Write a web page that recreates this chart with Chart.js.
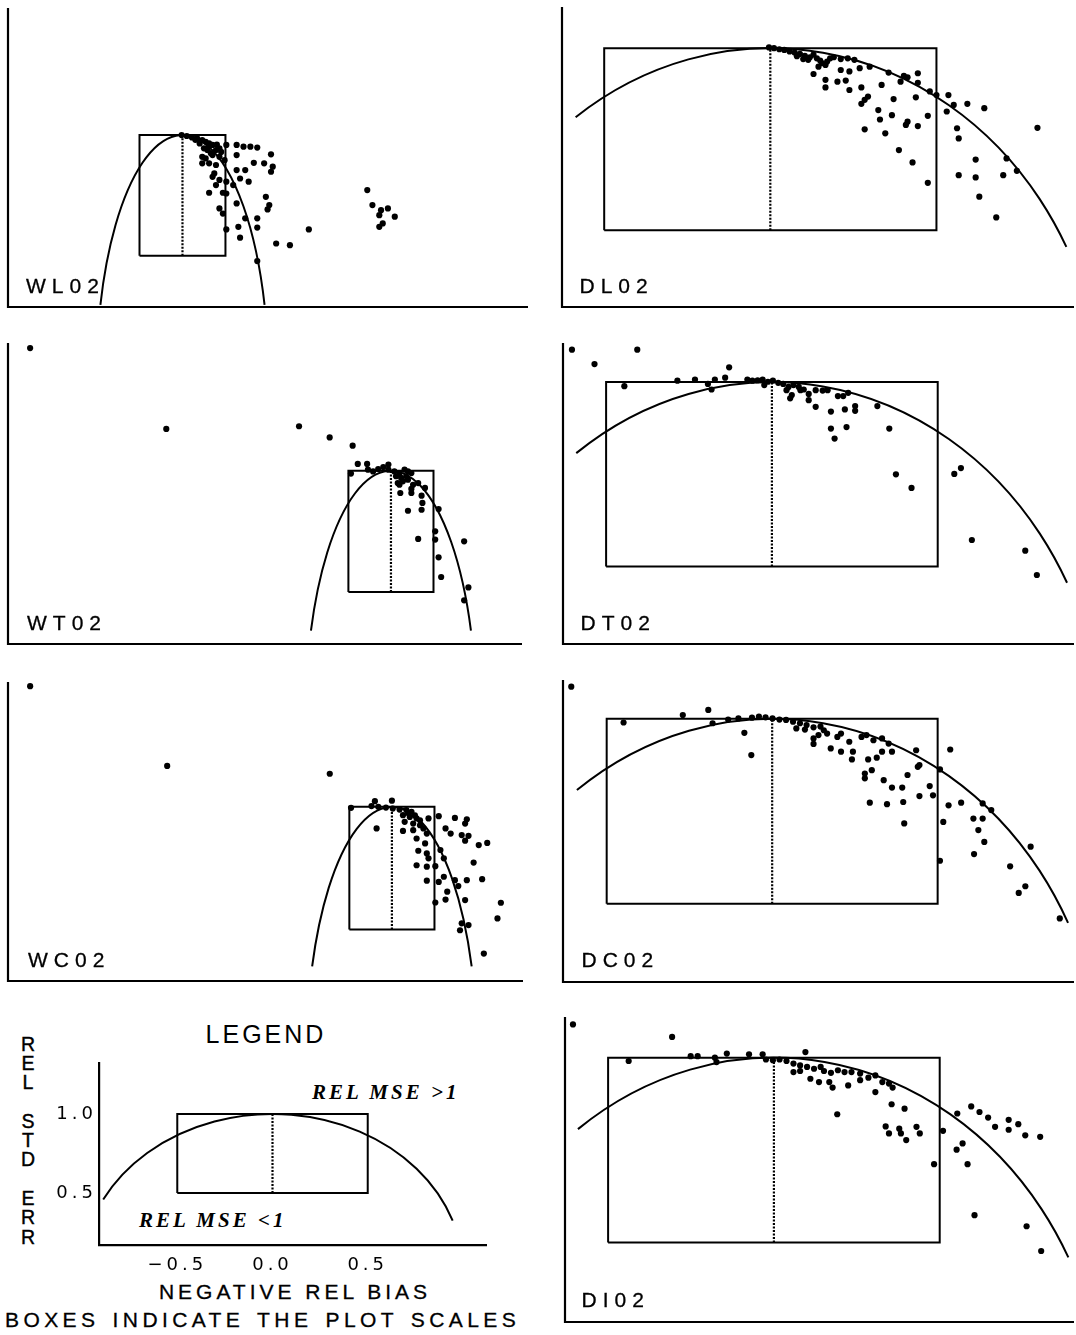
<!DOCTYPE html>
<html>
<head>
<meta charset="utf-8">
<script src="https://cdn.jsdelivr.net/npm/chart.js@4.4.1/dist/chart.umd.min.js"></script>
<style>
  html, body { margin: 0; padding: 0; background: #fff; }
  body { width: 1076px; height: 1335px; position: relative; overflow: hidden; color: #000;
         font-family: "Liberation Sans", Arial, sans-serif; }
  canvas.panel { position: absolute; }
  .txt { position: absolute; white-space: nowrap; font-size: 21px; line-height: 21px; }
  .plabel { letter-spacing: 6px; -webkit-text-stroke: 0.3px #000; }
  #legendTitle { left: 163px; width: 200px; top: 1021.7px; text-align: center; font-size: 25px; line-height: 25px;
                 letter-spacing: 3px; padding-left: 3px; }
  #biasTitle { left: 141px; width: 300px; top: 1280.8px; text-align: center; letter-spacing: 4px; padding-left: 4px;
               -webkit-text-stroke: 0.3px #000; }
  #footnote { left: 5px; top: 1309px; letter-spacing: 4.4px; word-spacing: 3px; -webkit-text-stroke: 0.3px #000; }
  .mse { font-family: "Liberation Serif", "Times New Roman", serif; font-weight: bold; font-style: italic; letter-spacing: 3px; }
  #mseHigh { left: 312px; top: 1082.3px; }
  #mseLow { left: 139px; top: 1209.5px; }
  #stdTitle { left: 18px; width: 20px; top: 1034.6px; text-align: center; font-size: 19.5px; line-height: 19.3px;
              -webkit-text-stroke: 0.4px #000; }
</style>
</head>
<body>
<div class="txt" id="legendTitle">LEGEND</div>
<div class="txt" id="stdTitle">R<br>E<br>L<br><br>S<br>T<br>D<br><br>E<br>R<br>R</div>
<div class="txt mse" id="mseHigh">REL MSE &gt;1</div>
<div class="txt mse" id="mseLow">REL MSE &lt;1</div>
<div class="txt" id="biasTitle">NEGATIVE REL BIAS</div>
<div class="txt" id="footnote">BOXES INDICATE THE PLOT SCALES</div>
<script>
// box that marks the common plot scale: bias -0.5..0.5, std err 0.5..1.0
const boxBias = [-0.5, 0.5];
const boxStd = [0.5, 1.0];
const legendBiasTicks = [-0.5, 0.0, 0.5];
const legendStdTicks = [0.5, 1.0];

// [negative rel bias, rel std err]
const wl02Points = [
  [-0.01,1.000],[0.05,0.996],[0.11,0.990],[0.17,0.986],[0.23,0.979],[0.27,0.972],[0.31,0.966],[0.35,0.959],
  [0.25,0.945],[0.29,0.938],[0.39,0.938],[0.43,0.945],[0.51,0.959],[0.63,0.959],[0.71,0.952],[0.79,0.952],
  [0.87,0.948],[1.03,0.920],[0.23,0.910],[0.27,0.903],[0.35,0.917],[0.43,0.910],[0.49,0.896],[0.63,0.917],
  [0.83,0.885],[0.95,0.883],[0.23,0.883],[0.31,0.883],[0.39,0.876],[0.63,0.855],[0.73,0.855],[1.05,0.869],
  [1.03,0.848],[0.37,0.841],[0.35,0.827],[0.43,0.814],[0.39,0.793],[0.51,0.807],[0.67,0.820],[0.77,0.807],
  [0.59,0.793],[0.31,0.761],[0.47,0.761],[0.51,0.758],[0.97,0.744],[0.63,0.717],[1.01,0.710],[0.99,0.692],
  [0.43,0.696],[0.47,0.675],[0.73,0.655],[0.87,0.655],[0.65,0.620],[0.87,0.617],[0.51,0.609],[0.67,0.575],
  [1.09,0.551],[1.25,0.544],[1.47,0.609],[2.15,0.772],[2.21,0.710],[2.31,0.689],[2.39,0.696],[2.29,0.668],
  [2.47,0.662],[2.33,0.634],[2.29,0.620],[0.87,0.478],
  [0.20,0.965],[0.30,0.950],[0.45,0.930],[0.15,0.980],[0.40,0.960],[0.33,0.925]
];
const dl02Points = [
  [-0.004,1.002],[0.011,1.000],[0.027,0.997],[0.042,0.995],[0.058,0.991],[0.073,0.988],[0.089,0.984],[0.104,0.979],
  [0.119,0.975],[0.130,0.982],[0.114,0.968],[0.099,0.970],[0.140,0.972],[0.155,0.959],[0.171,0.963],[0.145,0.949],
  [0.166,0.954],[0.191,0.975],[0.212,0.970],[0.233,0.972],[0.253,0.968],[0.212,0.940],[0.238,0.936],[0.269,0.945],
  [0.299,0.949],[0.356,0.933],[0.402,0.924],[0.444,0.931],[0.130,0.929],[0.166,0.913],[0.202,0.908],[0.227,0.911],
  [0.166,0.892],[0.238,0.885],[0.274,0.892],[0.335,0.899],[0.392,0.908],[0.413,0.920],[0.444,0.905],[0.480,0.881],
  [0.500,0.871],[0.536,0.871],[0.294,0.867],[0.284,0.858],[0.274,0.847],[0.371,0.860],[0.438,0.865],[0.552,0.844],
  [0.593,0.847],[0.644,0.835],[0.325,0.830],[0.366,0.816],[0.531,0.826],[0.330,0.804],[0.413,0.798],[0.474,0.814],
  [0.444,0.786],[0.408,0.789],[0.284,0.777],[0.346,0.766],[0.562,0.780],[0.567,0.752],[0.804,0.781],[0.387,0.720],
  [0.428,0.686],[0.618,0.694],[0.711,0.697],[0.742,0.663],[0.567,0.651],[0.618,0.645],[0.701,0.651],[0.474,0.630],
  [0.629,0.592],[0.680,0.535],[0.080,0.978],[0.150,0.966],[0.180,0.972]
];
const wt02Points = [
  [-4.24,1.505],[-2.64,1.172],[-1.08,1.183],[-0.72,1.137],[-0.45,1.103],[-0.39,1.028],[-0.28,1.028],[-0.47,0.988],
  [-0.27,1.004],[-0.21,0.997],[-0.15,1.007],[-0.09,1.015],[-0.03,1.025],[-0.03,1.004],[0.04,0.997],[0.10,0.990],
  [0.16,1.004],[0.20,0.997],[0.24,0.990],[0.06,0.977],[0.12,0.970],[0.18,0.977],[0.08,0.949],[0.14,0.956],
  [0.20,0.963],[0.10,0.942],[0.26,0.942],[0.32,0.949],[0.40,0.929],[0.24,0.925],[0.24,0.908],[0.36,0.897],
  [0.11,0.908],[0.37,0.867],[0.36,0.839],[0.20,0.835],[0.56,0.842],[0.52,0.750],[0.52,0.716],[0.32,0.719],
  [0.86,0.709],[0.56,0.643],[0.59,0.562],[0.91,0.519],[0.86,0.466]
];
const dt02Points = [
  [-0.603,1.088],[-0.535,1.049],[-0.406,1.088],[-0.129,1.040],[-0.445,0.989],[-0.285,1.004],[-0.232,1.007],[-0.172,1.007],
  [-0.141,1.012],[-0.182,0.980],[-0.193,0.995],[-0.074,1.007],[-0.059,1.004],[-0.043,1.005],[-0.028,1.007],[-0.012,1.001],
  [0.003,1.004],[0.019,0.998],[0.034,0.995],[-0.023,0.992],[0.050,0.987],[0.065,0.992],[0.081,0.987],[0.044,0.978],
  [0.060,0.965],[0.086,0.978],[0.096,0.980],[0.111,0.968],[0.132,0.978],[0.153,0.977],[0.168,0.978],[0.055,0.956],
  [0.111,0.951],[0.132,0.933],[0.178,0.920],[0.199,0.962],[0.215,0.962],[0.230,0.971],[0.220,0.926],[0.251,0.935],
  [0.251,0.922],[0.318,0.935],[0.178,0.874],[0.225,0.878],[0.189,0.847],[0.354,0.874],[0.374,0.750],[0.421,0.713],
  [0.550,0.751],[0.570,0.767],[0.603,0.572],[0.764,0.543],[0.799,0.477]
];
const wc02Points = [
  [-4.25,1.492],[-2.64,1.167],[-0.73,1.135],[-0.48,0.996],[-0.20,1.023],[0.00,1.025],[-0.24,1.003],[-0.16,1.000],
  [-0.07,0.997],[0.01,0.993],[0.09,0.989],[0.17,0.987],[0.23,0.980],[0.13,0.966],[0.21,0.959],[0.29,0.953],
  [0.15,0.939],[0.25,0.932],[0.33,0.925],[0.43,0.953],[0.55,0.962],[0.74,0.955],[0.88,0.949],[0.86,0.932],
  [-0.18,0.912],[0.13,0.902],[0.25,0.905],[0.37,0.912],[0.41,0.891],[0.63,0.912],[0.69,0.891],[0.82,0.885],
  [0.90,0.882],[0.86,0.862],[0.29,0.871],[0.39,0.851],[1.02,0.844],[1.12,0.853],[0.31,0.821],[0.41,0.810],
  [0.43,0.790],[0.57,0.824],[0.61,0.790],[0.29,0.762],[0.41,0.756],[0.51,0.758],[0.96,0.773],[0.61,0.715],
  [0.74,0.701],[0.88,0.701],[1.06,0.705],[0.41,0.699],[0.55,0.694],[0.65,0.654],[0.78,0.677],[0.63,0.622],
  [0.86,0.620],[0.51,0.610],[1.28,0.609],[1.24,0.545],[0.82,0.525],[0.90,0.518],[0.80,0.497],[1.08,0.402],
  [0.19,0.975],[0.27,0.965],[0.33,0.945]
];
const dc02Points = [
  [-0.607,1.087],[-0.449,0.990],[-0.270,1.010],[-0.193,1.024],[-0.180,0.988],[-0.133,0.998],[-0.102,1.001],[-0.084,0.962],
  [-0.063,0.902],[-0.061,1.003],[-0.040,1.006],[-0.020,1.004],[0.001,1.001],[0.022,0.998],[0.042,0.997],[0.063,0.992],
  [0.084,0.988],[0.104,0.983],[0.073,0.974],[0.099,0.971],[0.125,0.977],[0.146,0.979],[0.156,0.969],[0.166,0.960],
  [0.125,0.947],[0.140,0.956],[0.125,0.932],[0.177,0.920],[0.197,0.951],[0.208,0.960],[0.233,0.938],[0.208,0.911],
  [0.241,0.890],[0.244,0.911],[0.270,0.951],[0.285,0.956],[0.306,0.942],[0.332,0.947],[0.352,0.933],[0.290,0.890],
  [0.316,0.895],[0.332,0.911],[0.362,0.911],[0.435,0.915],[0.538,0.917],[0.440,0.870],[0.445,0.875],[0.301,0.861],
  [0.280,0.852],[0.280,0.839],[0.337,0.834],[0.409,0.848],[0.362,0.814],[0.393,0.814],[0.476,0.818],[0.486,0.793],
  [0.445,0.791],[0.295,0.773],[0.347,0.769],[0.396,0.775],[0.507,0.863],[0.533,0.766],[0.571,0.773],[0.636,0.771],
  [0.517,0.721],[0.608,0.730],[0.636,0.730],[0.662,0.753],[0.399,0.717],[0.623,0.699],[0.641,0.667],[0.610,0.634],
  [0.507,0.616],[0.781,0.654],[0.719,0.601],[0.765,0.547],[0.745,0.529],[0.869,0.460]
];
const di02Points = [
  [-0.606,1.090],[-0.307,1.056],[-0.438,0.991],[-0.251,1.004],[-0.230,1.004],[-0.178,1.000],[-0.173,0.988],[-0.142,1.011],
  [-0.075,1.009],[-0.034,1.009],[-0.024,0.995],[-0.003,0.993],[0.017,0.995],[0.038,0.991],[0.059,0.984],[0.079,0.979],
  [0.095,1.015],[0.100,0.975],[0.121,0.970],[0.141,0.975],[0.059,0.961],[0.079,0.964],[0.110,0.943],[0.136,0.934],
  [0.151,0.964],[0.172,0.959],[0.167,0.934],[0.177,0.919],[0.193,0.966],[0.213,0.961],[0.234,0.961],[0.260,0.957],
  [0.224,0.925],[0.260,0.939],[0.285,0.946],[0.306,0.952],[0.327,0.934],[0.347,0.930],[0.358,0.919],[0.306,0.907],
  [0.191,0.847],[0.355,0.874],[0.394,0.862],[0.337,0.814],[0.347,0.795],[0.378,0.808],[0.383,0.795],[0.399,0.777],
  [0.430,0.813],[0.440,0.795],[0.510,0.802],[0.553,0.849],[0.595,0.868],[0.620,0.853],[0.646,0.838],[0.667,0.813],
  [0.708,0.832],[0.737,0.820],[0.708,0.805],[0.758,0.790],[0.803,0.786],[0.569,0.768],[0.551,0.751],[0.584,0.712],
  [0.483,0.712],[0.605,0.574],[0.762,0.544],[0.806,0.477]
];

// chart area in page pixels [left, top, right, bottom], axis limits, ends of the MSE = 1 curve
const panels = [
  { name: 'WL02', points: wl02Points, area: [8, 8, 528, 307], x: [-2.03, 4.02], y: [0.288, 1.526], curve: [-0.955, 0.955], label: [26, 278] },
  { name: 'DL02', points: dl02Points, area: [562, 7, 1074, 307], x: [-0.627, 0.914], y: [0.289, 1.113], curve: [-0.586, 0.891], label: [579.5, 278] },
  { name: 'WT02', points: wt02Points, area: [8, 343, 522, 644], x: [-4.50, 1.54], y: [0.286, 1.526], curve: [-0.94, 0.94], label: [27, 615] },
  { name: 'DT02', points: dt02Points, area: [563, 343, 1074, 644], x: [-0.630, 0.911], y: [0.290, 1.106], curve: [-0.590, 0.890], label: [580.5, 615] },
  { name: 'WC02', points: wc02Points, area: [8, 682, 523, 981], x: [-4.51, 1.54], y: [0.290, 1.509], curve: [-0.937, 0.937], label: [28, 952] },
  { name: 'DC02', points: dc02Points, area: [563, 680, 1074, 982], x: [-0.632, 0.912], y: [0.288, 1.105], curve: [-0.590, 0.894], label: [581.5, 952] },
  { name: 'DI02', points: di02Points, area: [565, 1017, 1074, 1322], x: [-0.630, 0.905], y: [0.285, 1.110], curve: [-0.591, 0.888], label: [581.5, 1292] }
];

const PAD = 10;

// x^2 + y^2 = 1 drawn through the chart's scales (an ellipse in pixel space)
const mseCurve = {
  id: 'mseCurve',
  beforeDatasetsDraw(chart, args, opts) {
    const xs = chart.scales.x, ys = chart.scales.y, ctx = chart.ctx;
    const cx = xs.getPixelForValue(0), cy = ys.getPixelForValue(0);
    const rx = xs.getPixelForValue(1) - cx, ry = cy - ys.getPixelForValue(1);
    ctx.save();
    ctx.strokeStyle = '#000';
    ctx.lineWidth = 2;
    ctx.beginPath();
    ctx.ellipse(cx, cy, rx, ry, 0, 2 * Math.PI - Math.acos(opts.from), 2 * Math.PI - Math.acos(opts.to), false);
    ctx.stroke();
    ctx.restore();
  }
};

// left and bottom axis lines
const frame = {
  id: 'frame',
  beforeDatasetsDraw(chart) {
    const { left, top, right, bottom } = chart.chartArea, ctx = chart.ctx;
    ctx.save();
    ctx.strokeStyle = '#000';
    ctx.lineWidth = 2.2;
    ctx.beginPath();
    ctx.moveTo(left, top);
    ctx.lineTo(left, bottom);
    ctx.lineTo(right, bottom);
    ctx.stroke();
    ctx.restore();
  }
};

const spacedText = {
  id: 'spacedText',
  beforeDraw(chart) { chart.ctx.letterSpacing = '4px'; }
};

function boxDatasets() {
  const corners = [
    [boxBias[0], boxStd[0]], [boxBias[0], boxStd[1]], [boxBias[1], boxStd[1]],
    [boxBias[1], boxStd[0]], [boxBias[0], boxStd[0]]
  ].map(([x, y]) => ({ x, y }));
  return [
    { data: corners, showLine: true, borderColor: '#000', borderWidth: 2, pointRadius: 0, clip: false, borderJoinStyle: 'miter' },
    { data: [{ x: 0, y: boxStd[0] }, { x: 0, y: boxStd[1] }], showLine: true, borderColor: '#000',
      borderWidth: 2.2, borderDash: [2, 1.5], pointRadius: 0, clip: false }
  ];
}

function addCanvas(left, top, w, h) {
  const cv = document.createElement('canvas');
  cv.className = 'panel';
  cv.width = w; cv.height = h;
  cv.style.left = left + 'px';
  cv.style.top = top + 'px';
  cv.style.width = w + 'px';
  cv.style.height = h + 'px';
  document.body.appendChild(cv);
  return cv;
}

panels.forEach(p => {
  const [l, t, r, b] = p.area;
  const cv = addCanvas(l - PAD, t - PAD, r - l + 2 * PAD, b - t + 2 * PAD);
  new Chart(cv, {
    type: 'scatter',
    data: {
      datasets: [
        { data: p.points.map(([x, y]) => ({ x, y })), backgroundColor: '#000', borderWidth: 0,
          pointRadius: 3.1, pointHoverRadius: 3.1, clip: false },
        ...boxDatasets()
      ]
    },
    options: {
      responsive: false,
      animation: false,
      devicePixelRatio: 1,
      events: [],
      layout: { padding: PAD },
      plugins: {
        legend: { display: false },
        tooltip: { enabled: false },
        mseCurve: { from: p.curve[0], to: p.curve[1] }
      },
      scales: {
        x: { type: 'linear', min: p.x[0], max: p.x[1], display: false },
        y: { type: 'linear', min: p.y[0], max: p.y[1], display: false }
      }
    },
    plugins: [frame, mseCurve]
  });

  const lab = document.createElement('div');
  lab.className = 'txt plabel';
  lab.textContent = p.name;
  lab.style.left = p.label[0] + 'px';
  lab.style.top = (p.label[1] - 2.7) + 'px';
  document.body.appendChild(lab);
});

// legend panel with its own ticks
const tickFont = { family: 'DejaVu Sans', size: 18 };
const fmt = v => (v < 0 ? '\u2212' : '') + Math.abs(v).toFixed(1);
const legendCanvas = addCanvas(0, 1050, 500, 240);
new Chart(legendCanvas, {
  type: 'scatter',
  data: { datasets: boxDatasets() },
  options: {
    responsive: false,
    animation: false,
    devicePixelRatio: 1,
    events: [],
    layout: { padding: { left: 0, top: 12, right: 14, bottom: 0 } },
    plugins: {
      legend: { display: false },
      tooltip: { enabled: false },
      mseCurve: { from: -0.889, to: 0.946 }
    },
    scales: {
      x: {
        type: 'linear', min: -0.911, max: 1.121,
        grid: { display: false, drawTicks: false },
        border: { display: true, color: '#000', width: 2.2 },
        ticks: { color: '#000', font: tickFont, padding: 10, callback: fmt, maxRotation: 0 },
        afterBuildTicks: s => { s.ticks = legendBiasTicks.map(v => ({ value: v })); },
        afterFit: s => { s.height = 45; }
      },
      y: {
        type: 'linear', min: 0.170, max: 1.325,
        grid: { display: false, drawTicks: false },
        border: { display: true, color: '#000', width: 2.2 },
        ticks: { color: '#000', font: tickFont, padding: 2, callback: fmt },
        afterBuildTicks: s => { s.ticks = legendStdTicks.map(v => ({ value: v })); },
        afterFit: s => { s.width = 99; }
      }
    }
  },
  plugins: [spacedText, mseCurve]
});
</script>
</body>
</html>
